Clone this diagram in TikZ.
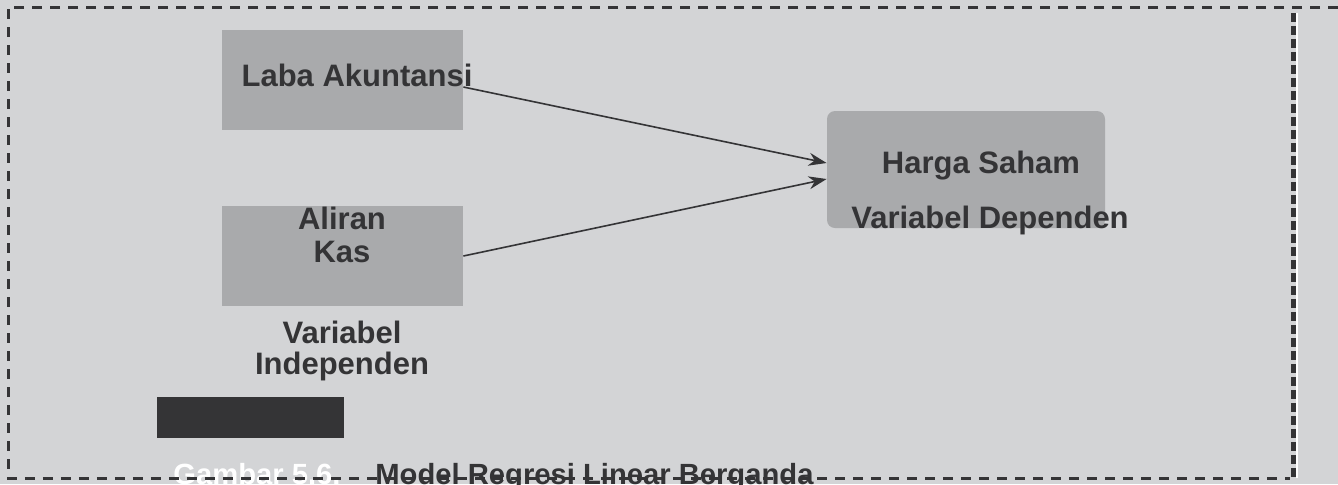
\documentclass[tikz,border=0pt]{standalone}
\usepackage{fontspec}
\setmainfont{Liberation Sans}
\usetikzlibrary{arrows.meta}
\definecolor{bggray}{RGB}{211,212,214}
\definecolor{boxgray}{RGB}{169,170,172}
\definecolor{ink}{RGB}{52,52,54}
\begin{document}
\begin{tikzpicture}[x=0.5pt,y=-0.5pt,
  box/.style={fill=boxgray, draw=none, inner sep=0pt, minimum width=120.5pt, minimum height=50pt},
  lbl/.style={anchor=base, font=\fontsize{15.5pt}{18pt}\selectfont\bfseries, text=ink, inner sep=0pt},
  captxt/.style={anchor=base west, font=\fontsize{14.6pt}{16pt}\selectfont\bfseries, inner sep=0pt},
  frame/.style={draw=ink, line width=1.5pt, dash pattern=on 5pt off 4pt},
  arr/.style={draw=ink, line width=0.8pt, -{Stealth[length=9pt,width=6.5pt]}}]
\useasboundingbox (0,0) rectangle (1338,484);
\fill[bggray] (0,0) rectangle (1338,484);

% boxes
\node[box] (laba) at (342.5,80) {};
\node[box] (aliran) at (342.5,256) {};
\node[box, minimum width=139pt, minimum height=58.5pt, rounded corners=4pt] (harga) at (966,169.5) {};
\node[fill=ink, draw=none, minimum width=93.5pt, minimum height=20.5pt, inner sep=0pt] (bar) at (250.5,417.5) {};

% labels
\node[lbl] (tlaba) at (357,86) {Laba Akuntansi};
\node[lbl] (taliran) at (342,229) {Aliran};
\node[lbl] (tkas) at (342,262) {Kas};
\node[lbl] (tvar) at (342,343) {Variabel};
\node[lbl] (tind) at (342,374) {Independen};
\node[lbl] (tharga) at (981,173) {Harga Saham};
\node[lbl] (tdep) at (990,228) {Variabel Dependen};

% caption
\node[captxt, text=white] (gbr) at (173,484) {Gambar 5.6.};
\node[captxt, text=ink] (judul) at (375,484) {Model Regresi Linear Berganda};

% connectors
\draw[arr] ([yshift=-3.5pt]laba.east) -- ([yshift=3.25pt]harga.west);
\draw[arr] (aliran.east) -- ([yshift=-4.75pt]harga.west);

% dashed frame
\draw[frame] (1338,7) -- (8,7) -- (8,478) -- (1290,478);
\draw[white, line width=0.8pt] (1297,13) -- (1297,478);
\draw[draw=ink, line width=2.5pt, dash pattern=on 4.5pt off 2pt] (1293,13) -- (1293,478);
\end{tikzpicture}
\end{document}
